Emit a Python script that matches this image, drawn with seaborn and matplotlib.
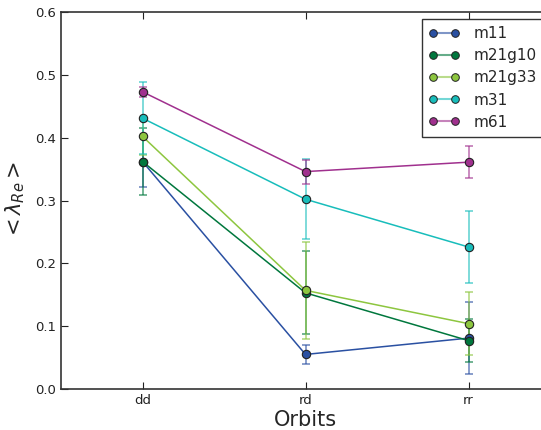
import pandas as pd
import matplotlib.pyplot as plt
from matplotlib.lines import Line2D
from matplotlib.legend_handler import HandlerTuple
import seaborn as sns

orbits = ["dd", "rd", "rr"]
models = ["m11", "m21g10", "m21g33", "m31", "m61"]
colours = ["#2a50a2", "#00773d", "#8dc63f", "#18bdbb", "#a0308e"]

lam = {
    "m11":    [0.362, 0.055, 0.081],
    "m21g10": [0.362, 0.153, 0.077],
    "m21g33": [0.402, 0.157, 0.104],
    "m31":    [0.431, 0.302, 0.226],
    "m61":    [0.473, 0.346, 0.361],
}
err = {
    "m11":    [0.041, 0.015, 0.057],
    "m21g10": [0.053, 0.066, 0.034],
    "m21g33": [0.030, 0.077, 0.050],
    "m31":    [0.057, 0.064, 0.057],
    "m61":    [0.008, 0.019, 0.025],
}

rows = []
for m in models:
    for o, v, e in zip(orbits, lam[m], err[m]):
        rows.append({"model": m, "orbit": o, "lam": v, "err": e})
df = pd.DataFrame(rows)

sns.set_style("ticks")
plt.rcParams["font.family"] = ["DejaVu Sans"]

fig = plt.figure(figsize=(5.41, 4.30), dpi=100)
ax = fig.add_axes([61 / 541, 41 / 430, 489 / 541, 377 / 430])

for m, c in zip(models, colours):
    ax.errorbar(orbits, lam[m], yerr=err[m], fmt="none", ecolor=c,
                alpha=0.6, elinewidth=1.3, capsize=3, capthick=1.3, zorder=2)

sns.lineplot(data=df, x="orbit", y="lam", hue="model", palette=colours,
             marker="o", markersize=6, markeredgecolor="#222222",
             markeredgewidth=0.8, linewidth=1.1, legend=False, ax=ax,
             zorder=3)

ax.set_xlim(-0.5, 2.5)
ax.set_ylim(0, 0.6)
ax.set_yticks([0.0, 0.1, 0.2, 0.3, 0.4, 0.5, 0.6])
ax.tick_params(direction="in", top=True, right=True, labelsize=9.5,
               colors="#222222", length=5)
for s in ax.spines.values():
    s.set_color("#333333")
    s.set_linewidth(1.2)

ax.set_xlabel("Orbits", fontsize=15, labelpad=2)
ax.set_ylabel(r"$<\lambda_{Re}>$", fontsize=15, labelpad=6)

handles = []
for c in colours:
    ln = Line2D([0], [0], color=c, alpha=0.6, linewidth=1.5)
    mk = Line2D([0], [0], color=c, marker="o", markersize=5.5, linestyle="none",
                markeredgecolor="#222222", markeredgewidth=0.7)
    handles.append((ln, mk))
leg = ax.legend(handles, models, handler_map={tuple: HandlerTuple(ndivide=1)},
                loc="upper left", bbox_to_anchor=(361 / 489, 0.981),
                borderaxespad=0, numpoints=2, fontsize=11, fancybox=False,
                framealpha=1, edgecolor="#333333", handlelength=2.0,
                handletextpad=0.9, borderpad=0.45, labelspacing=0.47)
leg.get_frame().set_linewidth(1.0)

fig.savefig("out.png", dpi=100)
